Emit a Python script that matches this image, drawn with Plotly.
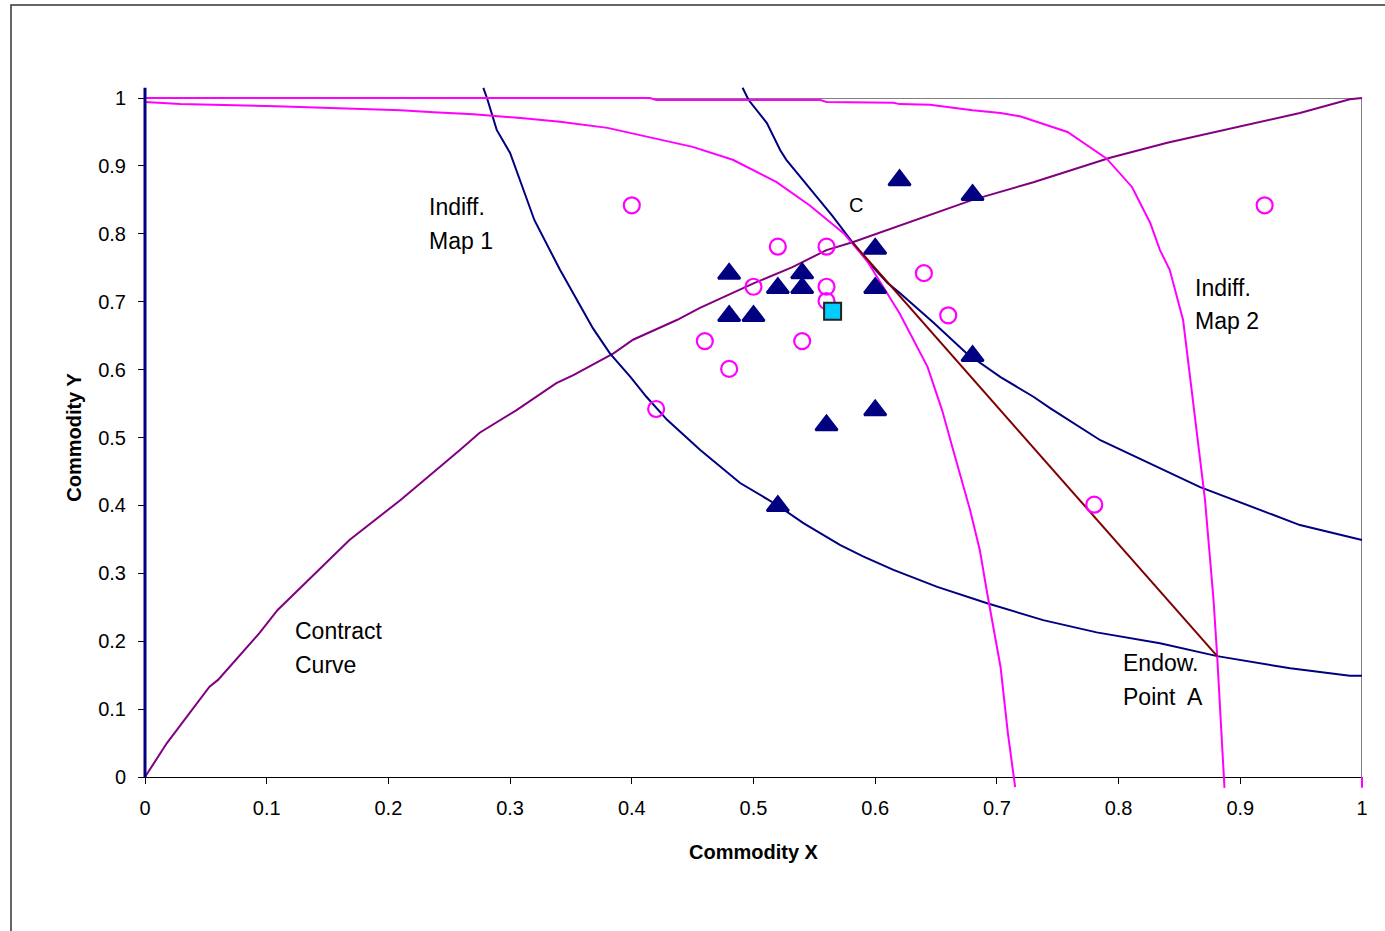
import plotly.graph_objects as go

# ---------------- data ----------------
x_ticks = [0, 0.1, 0.2, 0.3, 0.4, 0.5, 0.6, 0.7, 0.8, 0.9, 1.0]
x_tick_text = ["0", "0.1", "0.2", "0.3", "0.4", "0.5", "0.6", "0.7", "0.8", "0.9", "1"]
y_ticks = [0, 0.1, 0.2, 0.3, 0.4, 0.5, 0.6, 0.7, 0.8, 0.9, 1.0]
y_tick_text = ["0", "0.1", "0.2", "0.3", "0.4", "0.5", "0.6", "0.7", "0.8", "0.9", "1"]

# Indifference map 1 (navy)
map1_low_x = [0.278, 0.281, 0.289, 0.300, 0.320, 0.333, 0.341, 0.368, 0.382, 0.399, 0.412, 0.429,
              0.456, 0.489, 0.519, 0.541, 0.571, 0.590, 0.615, 0.651, 0.692, 0.738, 0.782, 0.834,
              0.881, 0.941, 0.990, 1.000]
map1_low_y = [1.015, 1.000, 0.953, 0.919, 0.820, 0.776, 0.747, 0.661, 0.624, 0.589, 0.560, 0.526,
              0.482, 0.433, 0.401, 0.374, 0.342, 0.325, 0.305, 0.280, 0.256, 0.231, 0.213, 0.197,
              0.178, 0.160, 0.149, 0.149]
map1_high_x = [0.491, 0.496, 0.511, 0.522, 0.527, 0.546, 0.565, 0.581, 0.593, 0.610, 0.620, 0.648,
               0.675, 0.703, 0.730, 0.744, 0.785, 0.867, 0.949, 1.000]
map1_high_y = [1.015, 0.997, 0.963, 0.923, 0.909, 0.867, 0.826, 0.788, 0.761, 0.728, 0.713, 0.669,
               0.624, 0.589, 0.560, 0.543, 0.496, 0.427, 0.371, 0.349]

# Indifference map 2 (magenta)
map2_low_x = [0.000, 0.029, 0.108, 0.168, 0.210, 0.237, 0.270, 0.311, 0.341, 0.380, 0.418, 0.450,
              0.483, 0.519, 0.546, 0.574, 0.593, 0.620, 0.643, 0.655, 0.664, 0.678, 0.686, 0.692,
              0.703, 0.709, 0.715]
map2_low_y = [0.994, 0.991, 0.988, 0.985, 0.982, 0.979, 0.976, 0.970, 0.965, 0.956, 0.941, 0.928,
              0.909, 0.876, 0.842, 0.801, 0.761, 0.683, 0.604, 0.540, 0.482, 0.393, 0.334, 0.271,
              0.162, 0.065, -0.015]
map2_high_x = [0.000, 0.415, 0.420, 0.555, 0.560, 0.615, 0.620, 0.645, 0.680, 0.703, 0.719, 0.758,
               0.790, 0.811, 0.826, 0.834, 0.842, 0.853, 0.859, 0.871, 0.878, 0.881, 0.887]
map2_high_y = [1.000, 1.000, 0.997, 0.997, 0.994, 0.993, 0.991, 0.990, 0.982, 0.978, 0.973, 0.950,
               0.911, 0.869, 0.816, 0.776, 0.747, 0.673, 0.585, 0.408, 0.261, 0.178, -0.016]
map2_edge_x = [1.0, 1.0]
map2_edge_y = [0.0, -0.016]

# Contract curve (purple)
contract_x = [0.000, 0.018, 0.053, 0.060, 0.094, 0.109, 0.168, 0.210, 0.259, 0.275, 0.305, 0.338,
              0.352, 0.374, 0.385, 0.401, 0.437, 0.456, 0.483, 0.500, 0.532, 0.560, 0.582, 0.620,
              0.680, 0.730, 0.744, 0.793, 0.840, 0.894, 0.949, 0.990, 1.000]
contract_y = [0.000, 0.050, 0.133, 0.143, 0.212, 0.246, 0.349, 0.408, 0.482, 0.507, 0.540, 0.580,
              0.592, 0.614, 0.624, 0.644, 0.673, 0.691, 0.713, 0.727, 0.751, 0.776, 0.788, 0.812,
              0.850, 0.876, 0.884, 0.912, 0.934, 0.956, 0.978, 0.998, 1.000]

# Budget line from C to endowment point A (dark red)
budget_x = [0.581, 0.881]
budget_y = [0.788, 0.178]

# Origin axis of person 1 (navy vertical)
origin_x = [0.0, 0.0]
origin_y = [0.0, 1.015]

# Trader observations
circle_x = [0.40, 0.92, 0.52, 0.56, 0.50, 0.56, 0.56, 0.64, 0.66, 0.46, 0.54, 0.48, 0.42, 0.78]
circle_y = [0.842, 0.842, 0.781, 0.781, 0.722, 0.722, 0.701, 0.742, 0.680, 0.642, 0.642, 0.601,
            0.542, 0.401]
triangle_x = [0.62, 0.68, 0.60, 0.48, 0.54, 0.52, 0.54, 0.60, 0.48, 0.50, 0.68, 0.60, 0.56, 0.52]
triangle_y = [0.879, 0.857, 0.778, 0.741, 0.742, 0.720, 0.720, 0.720, 0.679, 0.679, 0.620, 0.540,
              0.518, 0.399]
square_x = [0.565]
square_y = [0.686]

# ---------------- layout geometry (pixels) ----------------
W, H = 1385, 931
PX0, PX1 = 145, 1362      # x = 0 .. 1
PY1, PY0 = 98, 777        # y = 1 .. 0
ML, MR, MT, MB = 140, 18, 83, 139
pw = W - ML - MR
ph = H - MT - MB
sx = PX1 - PX0
sy = PY0 - PY1

NAVY = "#000080"
MAGENTA = "#FF00FF"
PURPLE = "#800080"
BROWN = "#800000"
FONT = "Arial, Liberation Sans, sans-serif"

fig = go.Figure()

def line(x, y, color, width=2):
    fig.add_trace(go.Scatter(x=x, y=y, mode="lines", xaxis="x2", yaxis="y2",
                             line=dict(color=color, width=width), hoverinfo="skip"))

line(contract_x, contract_y, PURPLE)
line(map1_low_x, map1_low_y, NAVY)
line(map1_high_x, map1_high_y, NAVY)
line(map2_low_x, map2_low_y, MAGENTA)
line(map2_high_x, map2_high_y, MAGENTA)
line(map2_edge_x, map2_edge_y, MAGENTA)
line(budget_x, budget_y, BROWN)
line(origin_x, origin_y, NAVY, 3)

fig.add_trace(go.Scatter(x=circle_x, y=circle_y, mode="markers", xaxis="x2", yaxis="y2",
                         marker=dict(symbol="circle-open", size=16, color=MAGENTA,
                                     line=dict(width=2.2, color=MAGENTA))))
fig.add_trace(go.Scatter(x=triangle_x, y=triangle_y, mode="markers", xaxis="x2", yaxis="y2",
                         marker=dict(symbol="triangle-up", size=19, color=NAVY,
                                     line=dict(width=2.5, color=NAVY))))
fig.add_trace(go.Scatter(x=square_x, y=square_y, mode="markers", xaxis="x2", yaxis="y2",
                         marker=dict(symbol="square", size=17, color="#00CCFF",
                                     line=dict(width=2, color="#222222"))))

tickfont = dict(family=FONT, size=20, color="black")
titlefont = dict(family=FONT, size=20, color="black", weight="bold")

fig.update_layout(
    width=W, height=H,
    margin=dict(l=ML, r=MR, t=MT, b=MB),
    paper_bgcolor="white", plot_bgcolor="rgba(0,0,0,0)",
    showlegend=False,
    font=dict(family=FONT, color="black"),
    xaxis=dict(domain=[(PX0 - ML) / pw, (PX1 - ML) / pw], range=[0, 1], anchor="y",
               tickmode="array", tickvals=x_ticks, ticktext=x_tick_text,
               ticks="outside", ticklen=6, tickwidth=1, tickcolor="black",
               showline=True, linecolor="black", linewidth=1,
               showgrid=False, zeroline=False, tickfont=tickfont,
               ticklabelstandoff=7, automargin=True,
               title=dict(text="Commodity X", font=titlefont, standoff=26)),
    yaxis=dict(domain=[(H - MB - PY0) / ph, (H - MB - PY1) / ph], range=[0, 1], anchor="x",
               tickmode="array", tickvals=y_ticks, ticktext=y_tick_text,
               ticks="outside", ticklen=6, tickwidth=1, tickcolor="black",
               showline=True, linecolor="black", linewidth=1,
               showgrid=False, zeroline=False, tickfont=tickfont,
               ticklabelstandoff=8, automargin=True,
               title=dict(text="Commodity Y", font=titlefont, standoff=11)),
    xaxis2=dict(domain=[0, 1], range=[(ML - PX0) / sx, (ML + pw - PX0) / sx],
                anchor="y2", visible=False, showgrid=False, zeroline=False),
    yaxis2=dict(domain=[0, 1], range=[(PY0 - (H - MB)) / sy, (PY0 - MT) / sy],
                anchor="x2", visible=False, showgrid=False, zeroline=False),
)

# plot-area border (top and right) and outer chart frame
fig.add_shape(type="line", xref="x", yref="y", x0=0, y0=1, x1=1, y1=1,
              line=dict(color="#808080", width=2), layer="below")
fig.add_shape(type="line", xref="x", yref="y", x0=1, y0=0, x1=1, y1=1,
              line=dict(color="#808080", width=2), layer="below")
fig.add_shape(type="rect", xref="paper", yref="paper",
              x0=(11 - ML) / pw, y0=(H - MB - 5) / ph, x1=1.2, y1=-0.4,
              line=dict(color="#333333", width=1.5), layer="below")

labels = [
    ("Indiff.", 0.2317, 0.839, "left", 23),
    ("Map 1", 0.2317, 0.789, "left", 23),
    ("C", 0.584, 0.842, "center", 20),
    ("Indiff.", 0.861, 0.720, "left", 23),
    ("Map 2", 0.861, 0.672, "left", 23),
    ("Contract", 0.1216, 0.215, "left", 23),
    ("Curve", 0.1216, 0.165, "left", 23),
    ("Endow.", 0.802, 0.168, "left", 23),
    ("Point  A", 0.802, 0.118, "left", 23),
]
for txt, ax_, ay_, anc, fs in labels:
    fig.add_annotation(text=txt, x=ax_, y=ay_, xref="x", yref="y", showarrow=False,
                       xanchor=anc, yanchor="middle",
                       font=dict(family=FONT, size=fs, color="black"))

fig.write_html("out.html", config={"displayModeBar": False},
               post_script="document.body.style.margin='0px';document.body.style.overflow='hidden';")
